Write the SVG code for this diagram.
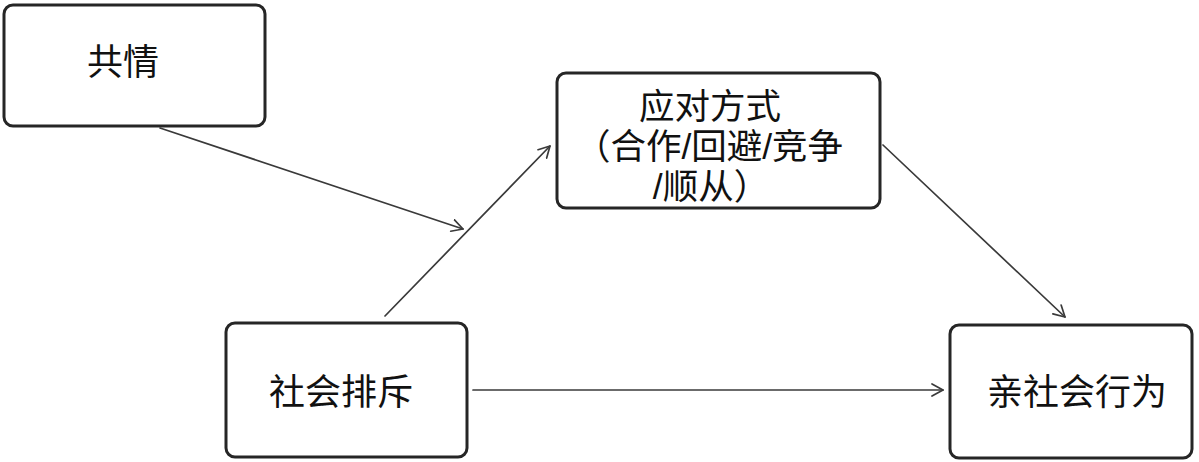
<svg xmlns="http://www.w3.org/2000/svg" width="1199" height="462" viewBox="0 0 1199 462">
<style>
.box{fill:#fff;stroke:#262626;stroke-width:3}
.lbl{font-family:"Noto Sans CJK SC","Noto Sans CJK JP",sans-serif;font-size:36px;fill:#111;text-anchor:middle}
.ml{font-family:"Liberation Sans","Noto Sans CJK SC",sans-serif;font-size:35.5px}
.edge{fill:none;stroke:#3a3a3a;stroke-width:1.7;stroke-linecap:round}
</style>
<defs>
<marker id="arr" viewBox="0 0 14 14" refX="12" refY="7" markerWidth="14" markerHeight="14" markerUnits="userSpaceOnUse" orient="auto">
<path d="M1,1 L12,7 L1,13" fill="none" stroke="#3a3a3a" stroke-width="1.7" stroke-linecap="round" stroke-linejoin="round"/>
</marker>
</defs>
<rect width="1199" height="462" fill="#fff"/>
<g id="connectors">
<line class="edge" x1="160" y1="128" x2="463" y2="229" marker-end="url(#arr)"/>
<line class="edge" x1="385" y1="316" x2="550" y2="146" marker-end="url(#arr)"/>
<line class="edge" x1="883" y1="145" x2="1065" y2="317" marker-end="url(#arr)"/>
<line class="edge" x1="473" y1="390" x2="943" y2="390" marker-end="url(#arr)"/>
</g>
<g id="node-empathy">
<rect class="box" x="4" y="5" width="261" height="121" rx="9"/>
<text class="lbl" x="123" y="75">共情</text>
</g>
<g id="node-coping">
<rect class="box" x="557" y="73" width="323" height="135" rx="9"/>
<text class="lbl ml"><tspan x="710" y="119">应对方式</tspan><tspan x="709" y="159">（合作/回避/竞争</tspan><tspan x="711" y="199">/顺从）</tspan></text>
</g>
<g id="node-exclusion">
<rect class="box" x="226" y="323" width="241" height="134" rx="9"/>
<text class="lbl" x="341" y="405">社会排斥</text>
</g>
<g id="node-prosocial">
<rect class="box" x="950" y="325" width="242" height="133" rx="9"/>
<text class="lbl" x="1077" y="405">亲社会行为</text>
</g>
</svg>
